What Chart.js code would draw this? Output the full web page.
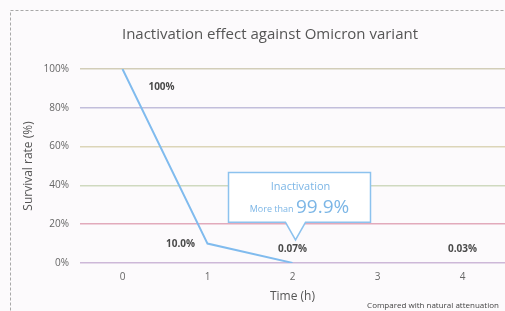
<!DOCTYPE html>
<html>
<head>
<meta charset="utf-8">
<script src="https://cdn.jsdelivr.net/npm/chart.js@4.4.0/dist/chart.umd.min.js"></script>
<style>
	html, body { margin: 0; padding: 0; background: #fcfafc; }
	#wrap { width: 505px; height: 311px; }
</style>
</head>
<body>
<div id="wrap"><canvas id="chart" width="505" height="311"></canvas></div>
<script>
// data
var hours      = ['0', '1', '2', '3', '4'];
var survival   = [100, 10, 0.07, null, 0.03];
var valueTexts = ['100%', '10.0%', '0.07%', '', '0.03%'];
var yTicks     = [0, 20, 40, 60, 80, 100];
var gridColors = ['#cdb8d8', '#e2aabb', '#cfd9bf', '#dcd5b8', '#c2bedb', '#d2cdb8'];

var FONT = '"Open Sans", "Noto Sans", sans-serif';

// dashed frame, title, value labels, callout and footnote
var extras = {
	id: 'extras',
	beforeDraw: function(chart) {
		var c = chart.ctx;
		c.save();
		c.strokeStyle = '#a8a8a8';
		c.lineWidth = 1;
		c.setLineDash([3, 2]);
		c.strokeRect(10.5, 10.5, 600, 400);
		c.restore();
	},
	afterDraw: function(chart) {
		var c = chart.ctx;
		var x = chart.scales.x, y = chart.scales.y;
		c.save();
		c.textAlign = 'center';
		c.textBaseline = 'middle';

		// title
		c.fillStyle = '#555';
		c.font = '15px ' + FONT;
		c.fillText('Inactivation effect against Omicron variant', 270, 35);

		// value labels
		c.font = 'bold 10px ' + FONT;
		c.fillStyle = '#4a4a4a';
		var offs = [[39, 90.7], [-27, 9.8], [0, 7.2], [0, 7.2], [0, 7.2]];
		valueTexts.forEach(function(t, i) {
			if (!t) return;
			c.fillText(t, x.getPixelForValue(i) + offs[i][0], y.getPixelForValue(offs[i][1]));
		});

		// callout box pointing at the 2 h point
		var px = x.getPixelForValue(2);
		var l = px - 64, r = px + 78;
		var top = y.getPixelForValue(46.6), bot = y.getPixelForValue(21);
		var tipX = px + 3, tipY = y.getPixelForValue(11.9);
		c.beginPath();
		c.moveTo(l, top);
		c.lineTo(r, top);
		c.lineTo(r, bot);
		c.lineTo(tipX + 10, bot);
		c.lineTo(tipX, tipY);
		c.lineTo(tipX - 10, bot);
		c.lineTo(l, bot);
		c.closePath();
		c.fillStyle = '#ffffff';
		c.fill();
		c.strokeStyle = '#8cc2ee';
		c.lineWidth = 1.5;
		c.stroke();

		var cx = (l + r) / 2;
		c.fillStyle = '#7cb6e6';
		c.font = '11px ' + FONT;
		c.fillText('Inactivation', cx + 1, top + 14);
		c.textAlign = 'left';
		var small = 'More than ';
		c.font = '19px ' + FONT;
		var bigW = c.measureText('99.9%').width;
		c.font = '9px ' + FONT;
		var smallW = c.measureText(small).width;
		var sx = cx - (smallW + bigW) / 2;
		c.fillText(small, sx, top + 37);
		c.font = '19px ' + FONT;
		c.fillText('99.9%', sx + smallW, top + 35);

		// footnote
		c.fillStyle = '#444';
		c.font = '8px ' + FONT;
		c.textAlign = 'center';
		c.fillText('Compared with natural attenuation', 433, 306);
		c.restore();
	}
};

var chart = new Chart(document.getElementById('chart'), {
	type: 'line',
	data: {
		labels: hours,
		datasets: [{
			data: survival,
			borderColor: '#80bbee',
			borderWidth: 2,
			pointRadius: 0,
			spanGaps: false,
			tension: 0
		}]
	},
	options: {
		responsive: false,
		animation: false,
		layout: { padding: { left: 0, right: 0, top: 69, bottom: 0 } },
		plugins: {
			legend: { display: false },
			tooltip: { enabled: false },
			title: { display: false }
		},
		scales: {
			x: {
				offset: true,
				grid: { display: false, drawTicks: false },
				border: { display: false },
				ticks: { color: '#666', font: { family: FONT, size: 10 }, padding: 8 },
				title: {
					display: true,
					text: 'Time (h)',
					color: '#555',
					font: { family: FONT, size: 12 },
					padding: { top: 0, bottom: 7 }
				},
				afterFit: function(s) { s.height = 48; }
			},
			y: {
				min: 0,
				max: 100,
				afterBuildTicks: function(s) {
					s.ticks = yTicks.map(function(v) { return { value: v }; });
				},
				grid: {
					drawTicks: false,
					lineWidth: 1.5,
					color: function(ctx) {
						return gridColors[yTicks.indexOf(ctx.tick.value)] || '#ccc';
					}
				},
				border: { display: false },
				ticks: {
					color: '#666',
					font: { family: FONT, size: 10 },
					padding: 11,
					callback: function(v) { return v + '%'; }
				},
				title: {
					display: true,
					text: 'Survival rate (%)',
					color: '#555',
					font: { family: FONT, size: 12 },
					padding: { top: 21, bottom: 0 }
				},
				afterFit: function(s) { s.width = 80; }
			}
		}
	},
	plugins: [extras]
});
</script>
</body>
</html>
